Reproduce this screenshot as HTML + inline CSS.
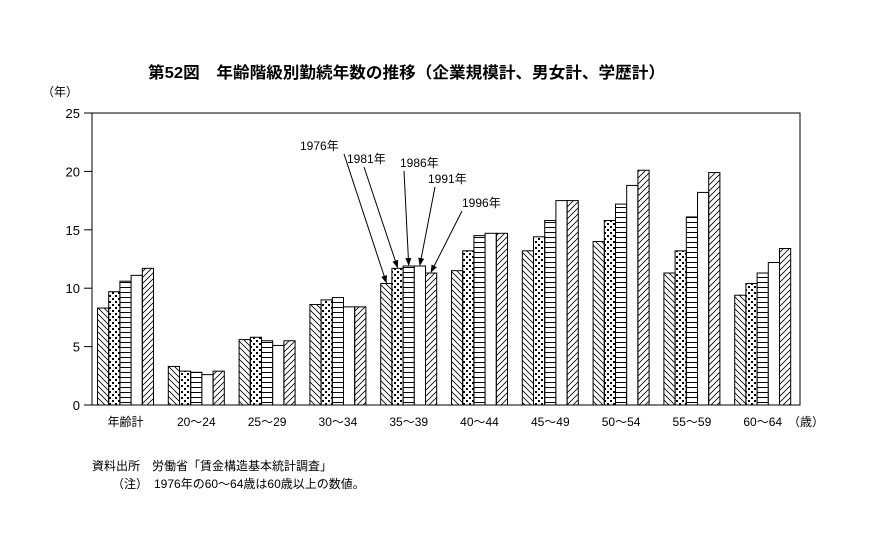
<!DOCTYPE html>
<html><head><meta charset="utf-8">
<style>
body{margin:0;background:#fff;}
svg text{font-family:"Liberation Sans","Noto Sans CJK JP",sans-serif;fill:#000;}
</style></head>
<body>
<svg id="c" width="871" height="536" xmlns="http://www.w3.org/2000/svg">
<defs>
<pattern id="p0" width="6" height="6" patternUnits="userSpaceOnUse"><path d="M-1,-1 L7,7 M-1,5 L1,7 M5,-1 L7,1" stroke="#000" stroke-width="0.8"/></pattern>
<pattern id="p1" width="6" height="6" patternUnits="userSpaceOnUse"><rect x="1" y="1" width="2" height="2" fill="#000"/><rect x="4" y="4" width="2" height="2" fill="#000"/></pattern>
<pattern id="p2" width="6" height="5" patternUnits="userSpaceOnUse"><path d="M0,2.5 L6,2.5" stroke="#000" stroke-width="1"/></pattern>
<pattern id="p3" width="6" height="6" patternUnits="userSpaceOnUse"><rect width="6" height="6" fill="#fff"/></pattern>
<pattern id="p4" width="6" height="6" patternUnits="userSpaceOnUse"><path d="M-1,7 L7,-1 M-1,1 L1,-1 M5,7 L7,5" stroke="#000" stroke-width="0.8"/></pattern>
<marker id="ah" markerWidth="8" markerHeight="8" refX="7" refY="4" orient="auto"><path d="M0,1 L8,4 L0,7 Z" fill="#000"/></marker>
</defs>
<text x="148" y="78" font-size="16" font-weight="bold" textLength="517" lengthAdjust="spacingAndGlyphs">第52図　年齢階級別勤続年数の推移（企業規模計、男女計、学歴計）</text>
<text x="42" y="96" font-size="12">（年）</text>
<g id="plot"></g>
<text x="92" y="470" font-size="12">資料出所　労働省「賃金構造基本統計調査」</text>
<text x="112" y="488" font-size="12">（注）　1976年の60～64歳は60歳以上の数値。</text>
<text x="788" y="426" font-size="12">（歳）</text>
</svg>
<script>
const categories=["年齢計","20～24","25～29","30～34","35～39","40～44","45～49","50～54","55～59","60～64"];
const years=["1976年","1981年","1986年","1991年","1996年"];
const s1976=[8.3,3.3,5.6,8.6,10.4,11.5,13.2,14.0,11.3,9.4];
const s1981=[9.7,2.9,5.8,9.0,11.7,13.2,14.4,15.8,13.2,10.4];
const s1986=[10.6,2.8,5.5,9.2,11.9,14.5,15.8,17.2,16.1,11.3];
const s1991=[11.1,2.6,5.1,8.4,11.9,14.7,17.5,18.8,18.2,12.2];
const s1996=[11.7,2.9,5.5,8.4,11.3,14.7,17.5,20.1,19.9,13.4];
const yTicks=[0,5,10,15,20,25];
const series=[s1976,s1981,s1986,s1991,s1996];
const NS="http://www.w3.org/2000/svg";
const L=92,R=800,T=113,B=405,YMAX=25;
const y=v=>B-(v/YMAX)*(B-T);
const gw=(R-L)/categories.length, bw=11.2;
const x=(ci,si)=>L+ci*gw+5.5+si*bw;
const g=document.getElementById('plot');
function mk(t,a){const e=document.createElementNS(NS,t);for(const k in a)e.setAttribute(k,a[k]);g.appendChild(e);return e;}
const fr=mk('rect',{x:L,y:T,width:R-L,height:B-T,fill:'none',stroke:'#000','stroke-width':1});


yTicks.forEach(v=>{
 const l=mk('line',{x1:L-8,x2:L,y1:y(v),y2:y(v),stroke:'#000'});
 
 
 const t=mk('text',{x:L-12,y:y(v)+5,'font-size':13,'text-anchor':'end'});t.textContent=v;
 
 
});
categories.forEach((c,ci)=>{
 series.forEach((s,si)=>{
  const r=mk('rect',{x:x(ci,si),y:y(s[ci]),width:bw,height:B-y(s[ci]),fill:'url(#p'+si+')',stroke:'#000','stroke-width':1});
  
  
 });
 const t=mk('text',{x:x(ci,0)+2.5*bw,y:426,'font-size':12,'text-anchor':'middle'});t.textContent=c;
 
 
});
const labPos=[[300,150],[347,163],[400,167],[428,183],[462,207]];
const ci=4;
years.forEach((yr,si)=>{
 const bx=x(ci,si)+bw/2, by=y(series[si][ci])-1;
 const [lx,ly]=labPos[si];
 const t=mk('text',{x:lx,y:ly,'font-size':12});t.textContent=yr;
 
 
 const sx=[344,364,404,435,462][si], sy=ly+4;
 const ln=mk('line',{x1:sx,y1:sy,x2:bx,y2:by,stroke:'#000','stroke-width':1,'marker-end':'url(#ah)'});
 
 
});
</script>
</body></html>
